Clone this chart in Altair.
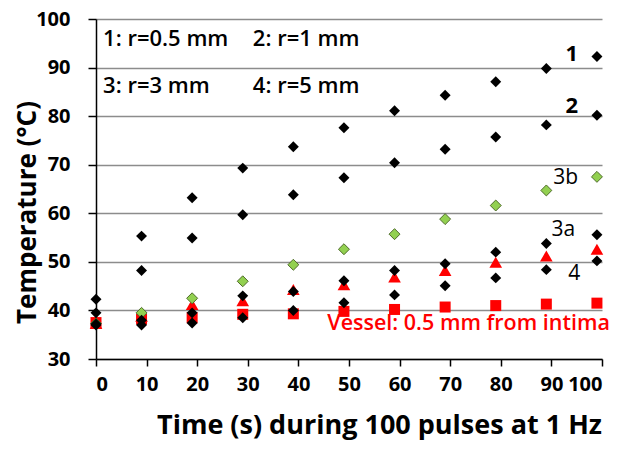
import altair as alt
import pandas as pd

time = [0, 9, 19, 29, 39, 49, 59, 69, 79, 89, 99]
s1 = [42.3, 55.3, 63.2, 69.3, 73.7, 77.6, 81.1, 84.3, 87.1, 89.8, 92.3]
s2 = [39.5, 48.2, 54.9, 59.7, 63.8, 67.3, 70.4, 73.2, 75.7, 78.2, 80.2]
s3a = [37.2, 38.0, 39.5, 43.0, 43.9, 46.1, 48.2, 49.6, 52.0, 53.8, 55.6]
s4 = [37.0, 37.0, 37.4, 38.5, 40.0, 41.6, 43.2, 45.1, 46.7, 48.4, 50.2]
s3b = [37.3, 39.5, 42.5, 46.0, 49.4, 52.6, 55.7, 58.8, 61.6, 64.7, 67.5]
vessel_tri = [37.3, 38.8, 41.2, 42.0, 44.3, 45.3, 46.9, 48.2, 49.9, 51.2, 52.6]
vessel_sq = [37.5, 38.2, 38.5, 39.2, 39.3, 39.8, 40.2, 40.7, 41.0, 41.3, 41.5]

legend_texts = ["1: r=0.5 mm", "2: r=1 mm", "3: r=3 mm", "4: r=5 mm"]
legend_t = [1.4, 31.0, 1.4, 31.0]
legend_T = [94.4, 94.4, 84.7, 84.7]

curve_texts = ["1", "2", "3b", "3a", "4"]
curve_t = [95.3, 95.3, 95.3, 94.7, 95.7]
curve_T = [91.3, 80.7, 66.0, 55.3, 46.3]
curve_weight = ["bold", "bold", "normal", "normal", "normal"]

vessel_text = ["Vessel: 0.5 mm from intima"]
vessel_t = [45.7]
vessel_T = [36.0]

black = pd.DataFrame({
    "t": time * 4,
    "T": s1 + s2 + s3a + s4,
})
green = pd.DataFrame({"t": time, "T": s3b})
tri = pd.DataFrame({"t": time, "T": vessel_tri})
sq = pd.DataFrame({"t": time, "T": vessel_sq})

xs = alt.Scale(domain=[0, 100], nice=False)
ys = alt.Scale(domain=[30, 100], nice=False)

X = alt.X("t:Q", scale=xs, axis=alt.Axis(
    values=list(range(0, 101, 10)), grid=False, title="Time (s) during 100 pulses at 1 Hz",
    tickSize=7, tickColor="black", domainColor="black", domainWidth=1.5, tickWidth=1.5,
    labelFontSize=20, labelFontWeight="bold", labelColor="black", labelPadding=8,
    titleFontSize=27, titleFontWeight="bold", titleColor="black",
    titleX=283, titleY=66, titleBaseline="middle", titleAlign="center"))
Y = alt.Y("T:Q", scale=ys, axis=alt.Axis(
    values=list(range(30, 101, 10)), grid=True, gridColor="#8c8c8c", gridWidth=1.5,
    title="Temperature (°C)",
    tickSize=8, tickColor="black", domainColor="black", domainWidth=1.5, tickWidth=1.5,
    labelFontSize=20, labelFontWeight="bold", labelColor="black", labelPadding=18,
    titleFontSize=26, titleFontWeight="bold", titleColor="black",
    titleX=-69, titleY=193, titleAngle=270, titleBaseline="middle", titleAlign="center"))

base_grid = alt.Chart(sq).mark_point(opacity=0).encode(x=X, y=Y)

sq_layer = alt.Chart(sq).mark_point(shape="square", filled=True, size=121, color="#ff0000", opacity=1).encode(
    x=alt.X("t:Q", scale=xs), y=alt.Y("T:Q", scale=ys))
tri_layer = alt.Chart(tri).mark_point(shape="triangle-up", filled=True, size=160, color="#ff0000", opacity=1).encode(
    x=alt.X("t:Q", scale=xs), y=alt.Y("T:Q", scale=ys))
green_layer = alt.Chart(green).mark_point(shape="diamond", filled=True, size=120, fill="#92d050",
                                          stroke="#4f6b2a", strokeWidth=1, opacity=1).encode(
    x=alt.X("t:Q", scale=xs), y=alt.Y("T:Q", scale=ys))
black_layer = alt.Chart(black).mark_point(shape="diamond", filled=True, size=120, color="black", opacity=1).encode(
    x=alt.X("t:Q", scale=xs), y=alt.Y("T:Q", scale=ys))

leg_df = pd.DataFrame({"txt": legend_texts, "t": legend_t, "T": legend_T})
leg_layer = alt.Chart(leg_df).mark_text(align="left", baseline="alphabetic", fontSize=22,
                                        fontWeight=600, color="black").encode(
    x=alt.X("t:Q", scale=xs), y=alt.Y("T:Q", scale=ys), text="txt:N")

cur_df = pd.DataFrame({"txt": curve_texts, "t": curve_t, "T": curve_T, "w": curve_weight})
cur_bold = alt.Chart(cur_df[cur_df.w == "bold"]).mark_text(align="right", baseline="alphabetic", fontSize=22,
                                                            fontWeight="bold", color="black").encode(
    x=alt.X("t:Q", scale=xs), y=alt.Y("T:Q", scale=ys), text="txt:N")
cur_reg = alt.Chart(cur_df[cur_df.w == "normal"]).mark_text(align="right", baseline="alphabetic", fontSize=21,
                                                             fontWeight="normal", color="black").encode(
    x=alt.X("t:Q", scale=xs), y=alt.Y("T:Q", scale=ys), text="txt:N")

ves_df = pd.DataFrame({"txt": vessel_text, "t": vessel_t, "T": vessel_T})
ves_layer = alt.Chart(ves_df).mark_text(align="left", baseline="alphabetic", fontSize=21.5,
                                        fontWeight=600, color="#ff0000").encode(
    x=alt.X("t:Q", scale=xs), y=alt.Y("T:Q", scale=ys), text="txt:N")

chart = alt.layer(base_grid, sq_layer, tri_layer, green_layer, black_layer,
                  leg_layer, cur_bold, cur_reg, ves_layer).properties(
    width=506, height=340,
    autosize=alt.AutoSizeParams(type="none"),
    padding={"left": 88, "top": 11, "right": 13, "bottom": 83},
).configure(font="Open Sans").configure_view(stroke=None)

chart.save("out.html", embed_options={"renderer": "svg", "actions": False})
